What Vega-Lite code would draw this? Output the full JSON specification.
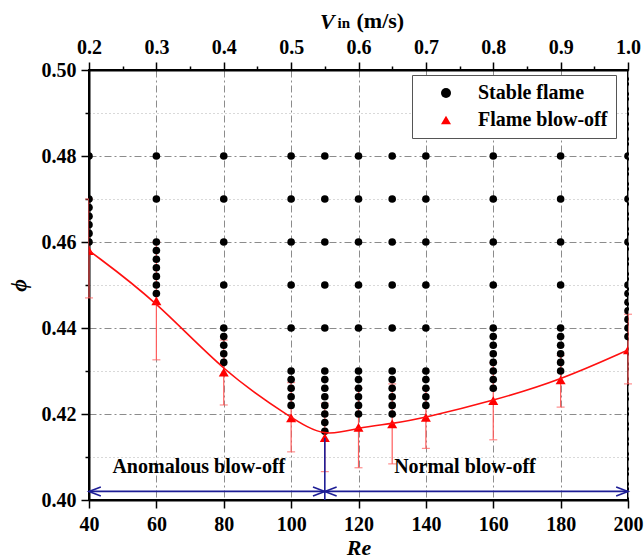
{
  "$schema": "https://vega.github.io/schema/vega-lite/v6.json",
  "width": 539,
  "height": 430,
  "autosize": {"type": "none"},
  "padding": {"left": 89, "top": 70, "right": 16, "bottom": 60},
  "background": "white",
  "title": {
    "text": "V",
    "anchor": "start",
    "frame": "group",
    "dx": 231,
    "offset": -25,
    "font": "Liberation Serif",
    "fontSize": 22,
    "fontStyle": "italic",
    "fontWeight": "bold",
    "color": "black"
  },
  "datasets": {
    "stable": [
      {"Re": 40, "phi": 0.46}, {"Re": 40, "phi": 0.462}, {"Re": 40, "phi": 0.464}, {"Re": 40, "phi": 0.466}, {"Re": 40, "phi": 0.468}, {"Re": 40, "phi": 0.47}, {"Re": 40, "phi": 0.48},
      {"Re": 60, "phi": 0.448}, {"Re": 60, "phi": 0.45}, {"Re": 60, "phi": 0.452}, {"Re": 60, "phi": 0.454}, {"Re": 60, "phi": 0.456}, {"Re": 60, "phi": 0.458}, {"Re": 60, "phi": 0.46}, {"Re": 60, "phi": 0.47}, {"Re": 60, "phi": 0.48},
      {"Re": 80, "phi": 0.432}, {"Re": 80, "phi": 0.434}, {"Re": 80, "phi": 0.436}, {"Re": 80, "phi": 0.438}, {"Re": 80, "phi": 0.44}, {"Re": 80, "phi": 0.45}, {"Re": 80, "phi": 0.46}, {"Re": 80, "phi": 0.47}, {"Re": 80, "phi": 0.48},
      {"Re": 100, "phi": 0.422}, {"Re": 100, "phi": 0.424}, {"Re": 100, "phi": 0.426}, {"Re": 100, "phi": 0.428}, {"Re": 100, "phi": 0.43}, {"Re": 100, "phi": 0.44}, {"Re": 100, "phi": 0.45}, {"Re": 100, "phi": 0.46}, {"Re": 100, "phi": 0.47}, {"Re": 100, "phi": 0.48},
      {"Re": 110, "phi": 0.416}, {"Re": 110, "phi": 0.418}, {"Re": 110, "phi": 0.42}, {"Re": 110, "phi": 0.422}, {"Re": 110, "phi": 0.424}, {"Re": 110, "phi": 0.426}, {"Re": 110, "phi": 0.428}, {"Re": 110, "phi": 0.43}, {"Re": 110, "phi": 0.44}, {"Re": 110, "phi": 0.45}, {"Re": 110, "phi": 0.46}, {"Re": 110, "phi": 0.47}, {"Re": 110, "phi": 0.48},
      {"Re": 120, "phi": 0.42}, {"Re": 120, "phi": 0.422}, {"Re": 120, "phi": 0.424}, {"Re": 120, "phi": 0.426}, {"Re": 120, "phi": 0.428}, {"Re": 120, "phi": 0.43}, {"Re": 120, "phi": 0.44}, {"Re": 120, "phi": 0.45}, {"Re": 120, "phi": 0.46}, {"Re": 120, "phi": 0.47}, {"Re": 120, "phi": 0.48},
      {"Re": 130, "phi": 0.42}, {"Re": 130, "phi": 0.422}, {"Re": 130, "phi": 0.424}, {"Re": 130, "phi": 0.426}, {"Re": 130, "phi": 0.428}, {"Re": 130, "phi": 0.43}, {"Re": 130, "phi": 0.44}, {"Re": 130, "phi": 0.45}, {"Re": 130, "phi": 0.46}, {"Re": 130, "phi": 0.47}, {"Re": 130, "phi": 0.48},
      {"Re": 140, "phi": 0.422}, {"Re": 140, "phi": 0.424}, {"Re": 140, "phi": 0.426}, {"Re": 140, "phi": 0.428}, {"Re": 140, "phi": 0.43}, {"Re": 140, "phi": 0.44}, {"Re": 140, "phi": 0.45}, {"Re": 140, "phi": 0.46}, {"Re": 140, "phi": 0.47}, {"Re": 140, "phi": 0.48},
      {"Re": 160, "phi": 0.426}, {"Re": 160, "phi": 0.428}, {"Re": 160, "phi": 0.43}, {"Re": 160, "phi": 0.432}, {"Re": 160, "phi": 0.434}, {"Re": 160, "phi": 0.436}, {"Re": 160, "phi": 0.438}, {"Re": 160, "phi": 0.44}, {"Re": 160, "phi": 0.45}, {"Re": 160, "phi": 0.46}, {"Re": 160, "phi": 0.47}, {"Re": 160, "phi": 0.48},
      {"Re": 180, "phi": 0.43}, {"Re": 180, "phi": 0.432}, {"Re": 180, "phi": 0.434}, {"Re": 180, "phi": 0.436}, {"Re": 180, "phi": 0.438}, {"Re": 180, "phi": 0.44}, {"Re": 180, "phi": 0.45}, {"Re": 180, "phi": 0.46}, {"Re": 180, "phi": 0.47}, {"Re": 180, "phi": 0.48},
      {"Re": 200, "phi": 0.438}, {"Re": 200, "phi": 0.44}, {"Re": 200, "phi": 0.442}, {"Re": 200, "phi": 0.444}, {"Re": 200, "phi": 0.446}, {"Re": 200, "phi": 0.448}, {"Re": 200, "phi": 0.45}, {"Re": 200, "phi": 0.46}, {"Re": 200, "phi": 0.47}, {"Re": 200, "phi": 0.48}
    ],
    "blowoff": [
      {"Re": 40, "phi": 0.458, "lo": 0.447, "hi": 0.47},
      {"Re": 60, "phi": 0.4463, "lo": 0.4326, "hi": 0.46},
      {"Re": 80, "phi": 0.4297, "lo": 0.4221, "hi": 0.4372},
      {"Re": 100, "phi": 0.4191, "lo": 0.4112, "hi": 0.4273},
      {"Re": 110, "phi": 0.4145, "lo": 0.4066, "hi": 0.4225},
      {"Re": 120, "phi": 0.4169, "lo": 0.4075, "hi": 0.426},
      {"Re": 130, "phi": 0.4177, "lo": 0.4084, "hi": 0.427},
      {"Re": 140, "phi": 0.4192, "lo": 0.412, "hi": 0.426},
      {"Re": 160, "phi": 0.4231, "lo": 0.414, "hi": 0.4319},
      {"Re": 180, "phi": 0.4279, "lo": 0.4216, "hi": 0.4336},
      {"Re": 200, "phi": 0.4349, "lo": 0.427, "hi": 0.4432}
    ],
    "regions": [
      {"label": "Anomalous blow-off", "from": 40, "to": 110, "labelRe": 72.6},
      {"label": "Normal blow-off", "from": 110, "to": 200, "labelRe": 151.6}
    ]
  },
  "resolve": {"axis": {"x": "independent", "y": "independent"}},
  "layer": [
    {
      "layer": [
        {
          "data": {"name": "blowoff"},
          "mark": {"type": "rule", "color": "#ff5c5c", "strokeWidth": 1.2},
          "encoding": {
            "x": {
              "field": "Re", "type": "quantitative",
              "scale": {"domain": [40, 200], "nice": false, "zero": false},
              "axis": {
                "orient": "bottom",
                "values": [40, 50, 60, 70, 80, 90, 100, 110, 120, 130, 140, 150, 160, 170, 180, 190, 200],
                "labelExpr": "datum.value % 20 === 0 ? datum.label : ''",
                "tickSize": {"condition": {"test": "datum.value % 20 === 0", "value": 8}, "value": 4},
                "grid": true,
                "gridDash": {"condition": {"test": "datum.value % 20 === 0", "value": [7, 3, 2, 3]}, "value": [1, 3]},
                "gridColor": {"condition": {"test": "datum.value % 20 === 0", "value": "#8c8c8c"}, "value": "#b3b3b3"},
                "labelPadding": 6,
                "title": "Re",
                "titleFontStyle": "italic",
                "titlePadding": 3
              }
            },
            "y": {
              "field": "lo", "type": "quantitative",
              "scale": {"domain": [0.4, 0.5], "nice": false, "zero": false},
              "axis": {
                "orient": "left",
                "values": [0.4, 0.405, 0.41, 0.415, 0.42, 0.425, 0.43, 0.435, 0.44, 0.445, 0.45, 0.455, 0.46, 0.465, 0.47, 0.475, 0.48, 0.485, 0.49, 0.495, 0.5],
                "labelExpr": "round(datum.value * 1000) % 20 === 0 ? format(datum.value, '.2f') : ''",
                "tickSize": {"condition": {"test": "round(datum.value * 1000) % 20 === 0", "value": 8}, "value": 4},
                "grid": true,
                "gridDash": {"condition": {"test": "round(datum.value * 1000) % 20 === 0", "value": [7, 3, 2, 3]}, "value": [1, 3]},
                "gridColor": {"condition": {"test": "round(datum.value * 1000) % 20 === 0", "value": "#8c8c8c"}, "value": "#b3b3b3"},
                "labelPadding": 5,
                "title": "ϕ",
                "titleFontStyle": "italic",
                "titlePadding": 11
              }
            },
            "y2": {"field": "hi"}
          }
        },
        {
          "data": {"name": "blowoff"},
          "transform": [{"fold": ["lo", "hi"], "as": ["end", "val"]}],
          "mark": {"type": "tick", "orient": "horizontal", "color": "#ff5c5c", "size": 8, "thickness": 1.2},
          "encoding": {
            "x": {"field": "Re", "type": "quantitative"},
            "y": {"field": "val", "type": "quantitative"}
          }
        },
        {
          "data": {"name": "stable"},
          "transform": [{"calculate": "'Stable flame'", "as": "kind"}],
          "mark": {"type": "point", "filled": true, "opacity": 1, "size": 58, "clip": true},
          "encoding": {
            "x": {"field": "Re", "type": "quantitative"},
            "y": {"field": "phi", "type": "quantitative"},
            "color": {"field": "kind", "type": "nominal", "title": null, "scale": {"domain": ["Stable flame", "Flame blow-off"], "range": ["black", "#ff0000"]}},
            "shape": {"field": "kind", "type": "nominal", "title": null, "scale": {"domain": ["Stable flame", "Flame blow-off"], "range": ["circle", "triangle-up"]}}
          }
        },
        {
          "data": {"name": "blowoff"},
          "transform": [{"calculate": "'Flame blow-off'", "as": "kind"}],
          "mark": {"type": "point", "filled": true, "opacity": 1, "size": 100, "clip": true},
          "encoding": {
            "x": {"field": "Re", "type": "quantitative"},
            "y": {"field": "phi", "type": "quantitative"},
            "color": {"field": "kind", "type": "nominal", "title": null},
            "shape": {"field": "kind", "type": "nominal", "title": null}
          }
        },
        {
          "data": {"name": "blowoff"},
          "transform": [{"filter": "datum.Re === 110"}],
          "mark": {"type": "rule", "color": "#1e1e96", "strokeWidth": 1.6},
          "encoding": {
            "x": {"field": "Re", "type": "quantitative"},
            "y": {"field": "phi", "type": "quantitative"},
            "y2": {"datum": 0.4}
          }
        },
        {
          "data": {"name": "regions"},
          "mark": {"type": "rule", "color": "#1e1e96", "strokeWidth": 1.6},
          "encoding": {
            "x": {"field": "from", "type": "quantitative"},
            "x2": {"field": "to"},
            "y": {"datum": 0.402, "type": "quantitative"}
          }
        },
        {
          "data": {"name": "regions"},
          "mark": {"type": "point", "shape": "M 1 -0.38 L 0 0 L 1 0.38", "filled": false, "size": 560, "color": "#1e1e96", "strokeWidth": 1.6, "opacity": 1},
          "encoding": {
            "x": {"field": "from", "type": "quantitative"},
            "y": {"datum": 0.402, "type": "quantitative"}
          }
        },
        {
          "data": {"name": "regions"},
          "mark": {"type": "point", "shape": "M -1 -0.38 L 0 0 L -1 0.38", "filled": false, "size": 560, "color": "#1e1e96", "strokeWidth": 1.6, "opacity": 1},
          "encoding": {
            "x": {"field": "to", "type": "quantitative"},
            "y": {"datum": 0.402, "type": "quantitative"}
          }
        },
        {
          "data": {"name": "regions"},
          "mark": {"type": "text", "font": "Liberation Serif", "fontWeight": "bold", "fontSize": 20, "color": "black", "align": "center", "baseline": "middle"},
          "encoding": {
            "x": {"field": "labelRe", "type": "quantitative"},
            "y": {"datum": 0.4077, "type": "quantitative"},
            "text": {"field": "label", "type": "nominal"}
          }
        }
      ]
    },
    {
      "data": {"name": "blowoff"},
      "mark": {"type": "line", "interpolate": "basis", "color": "#ff1010", "strokeWidth": 1.6, "clip": true},
      "encoding": {
        "x": {
          "field": "Re", "type": "quantitative",
          "axis": {
            "orient": "top",
            "values": [40, 50, 60, 70, 80, 90, 100, 110, 120, 130, 140, 150, 160, 170, 180, 190, 200],
            "labelExpr": "datum.value % 20 === 0 ? format(datum.value / 200, '.1f') : ''",
            "tickSize": {"condition": {"test": "datum.value % 20 === 0", "value": 8}, "value": 4},
            "grid": false,
            "labelPadding": 5,
            "title": "(m/s)",
            "titleX": 267,
            "titleY": -50,
            "titleAlign": "left",
            "titleBaseline": "middle"
          }
        },
        "y": {
          "field": "phi", "type": "quantitative",
          "axis": {
            "orient": "right",
            "labels": false,
            "ticks": false,
            "domain": false,
            "grid": false,
            "title": "in",
            "titleAngle": 0,
            "titleFontSize": 15,
            "titleFontStyle": "normal",
            "titleX": -291,
            "titleY": -43,
            "titleAlign": "left",
            "titleBaseline": "alphabetic"
          }
        }
      }
    }
  ],
  "config": {
    "font": "Liberation Serif",
    "view": {"stroke": "black", "strokeWidth": 2},
    "axis": {
      "domainColor": "black",
      "domainWidth": 2,
      "tickColor": "black",
      "tickWidth": 1.5,
      "labelFont": "Liberation Serif",
      "labelFontSize": 20,
      "labelFontWeight": "bold",
      "labelColor": "black",
      "labelOverlap": false,
      "labelBound": false,
      "labelFlush": false,
      "titleFont": "Liberation Serif",
      "titleFontSize": 22,
      "titleFontWeight": "bold",
      "titleColor": "black",
      "gridWidth": 1
    },
    "legend": {
      "orient": "none",
      "legendX": 323,
      "legendY": 5,
      "fillColor": "white",
      "strokeColor": "#555555",
      "strokeWidth": 1,
      "padding": 8,
      "symbolOffset": 16,
      "symbolSize": 100,
      "symbolStrokeWidth": 0,
      "labelFont": "Liberation Serif",
      "labelFontSize": 20,
      "labelFontWeight": "bold",
      "labelColor": "black",
      "labelOffset": 22,
      "rowPadding": 7,
      "labelLimit": 300
    }
  }
}
